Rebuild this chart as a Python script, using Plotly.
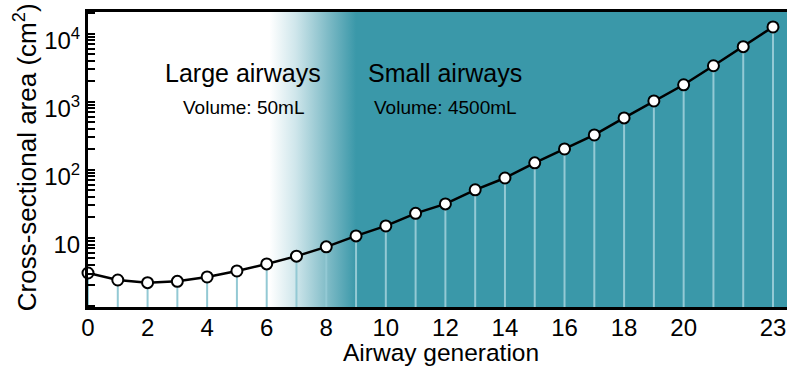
import plotly.graph_objects as go

# ---- data ----
generation = list(range(24))
area_cm2 = [3.05, 2.41, 2.2, 2.3, 2.67, 3.27, 4.15, 5.4, 7.4, 10.7, 15, 23, 31.6,
            51, 76, 127, 203, 326, 580, 1030, 1780, 3390, 6460, 12600]

x_tick_vals = [0, 2, 4, 6, 8, 10, 12, 14, 16, 18, 20, 23]
x_tick_text = [str(v) for v in x_tick_vals]
y_tick_vals = [10, 100, 1000, 10000]
y_tick_text = ["10", "10<sup>2</sup>", "10<sup>3</sup>", "10<sup>4</sup>"]

region_names = ["Large airways", "Small airways"]
region_volumes = ["Volume: 50mL", "Volume: 4500mL"]

# shading (small-airway zone) in generation units
SHADE_START = 6.1
SHADE_FULL = 9.0
X_MAX = 23.47
Y_LOG_RANGE = [-0.015, 4.32]
DROP_FLOOR = 0.5  # below the visible axis range; drop lines get clipped at the axis

TEAL = "#3A98A9"
FONT = "Liberation Sans, Arial, sans-serif"

fig = go.Figure()

# gradient background
fig.add_trace(go.Scatter(
    x=[SHADE_START, X_MAX + 1, X_MAX + 1, SHADE_START],
    y=[DROP_FLOOR, DROP_FLOOR, 1e5, 1e5],
    fill="toself", mode="none", hoverinfo="skip", showlegend=False,
    fillgradient=dict(type="horizontal", start=SHADE_START, stop=SHADE_FULL,
                      colorscale=[[0, "rgba(255,255,255,1)"], [0.3, "#cfe6eb"],
                                  [0.7, "#79b8c4"], [1, TEAL]]),
))

# drop lines from each point to the x axis
drop_x, drop_y = [], []
for g, a in zip(generation, area_cm2):
    drop_x += [g, g, None]
    drop_y += [a, DROP_FLOOR, None]
fig.add_trace(go.Scatter(
    x=drop_x, y=drop_y, mode="lines",
    line=dict(color="#93C9D4", width=2),
    showlegend=False, hoverinfo="skip",
))

# main line with markers
fig.add_trace(go.Scatter(
    x=generation, y=area_cm2, mode="lines+markers",
    line=dict(color="black", width=2.5),
    marker=dict(symbol="circle", size=11, color="white",
                line=dict(color="black", width=2)),
    cliponaxis=False, showlegend=False,
))

fig.update_layout(
    template="none",
    width=787, height=366,
    margin=dict(l=88, r=0, t=12, b=59),
    paper_bgcolor="white", plot_bgcolor="white",
    font=dict(family=FONT, color="black", size=24),
    xaxis=dict(
        range=[0, X_MAX], tickmode="array", tickvals=x_tick_vals, ticktext=x_tick_text,
        showgrid=False, zeroline=False, showline=True, linecolor="black", linewidth=3,
        mirror=True, ticks="", tickfont=dict(size=24, family=FONT), automargin=False,
        ticklabelstandoff=-3,
    ),
    yaxis=dict(
        type="log", range=Y_LOG_RANGE, tickmode="array", tickvals=y_tick_vals,
        ticktext=y_tick_text, showgrid=False, zeroline=False, showline=True,
        linecolor="black", linewidth=3, ticks="inside", ticklen=7, tickwidth=2,
        tickcolor="black", tickfont=dict(size=24, family=FONT), automargin=False,
        ticklabelshift=7,
        minor=dict(ticks="inside", ticklen=7, tickwidth=2, tickcolor="black",
                   dtick="D1", showgrid=False),
    ),
    annotations=[
        dict(text=region_names[0], x=0.222, y=0.793, xref="paper", yref="paper",
             xanchor="center", yanchor="middle",
             showarrow=False, font=dict(size=25, family=FONT)),
        dict(text=region_volumes[0], x=0.222, y=0.675, xref="paper", yref="paper",
             xanchor="center", yanchor="middle",
             showarrow=False, font=dict(size=19, family=FONT)),
        dict(text=region_names[1], x=0.511, y=0.793, xref="paper", yref="paper",
             xanchor="center", yanchor="middle",
             showarrow=False, font=dict(size=25, family=FONT)),
        dict(text=region_volumes[1], x=0.511, y=0.675, xref="paper", yref="paper",
             xanchor="center", yanchor="middle",
             showarrow=False, font=dict(size=19, family=FONT)),
        dict(text="Airway generation", x=0.505, y=-0.153, xref="paper", yref="paper",
             xanchor="center", yanchor="middle",
             showarrow=False, font=dict(size=24.5, family=FONT)),
        dict(text="Cross-sectional area (cm<sup>2</sup>)", x=-0.090, y=0.508,
             xref="paper", yref="paper", textangle=-90, showarrow=False,
             xanchor="center", yanchor="middle",
             font=dict(size=26, family=FONT)),
    ],
)

fig.write_html("out.html", config={"displayModeBar": False},
               post_script="document.body.style.margin='0';")
